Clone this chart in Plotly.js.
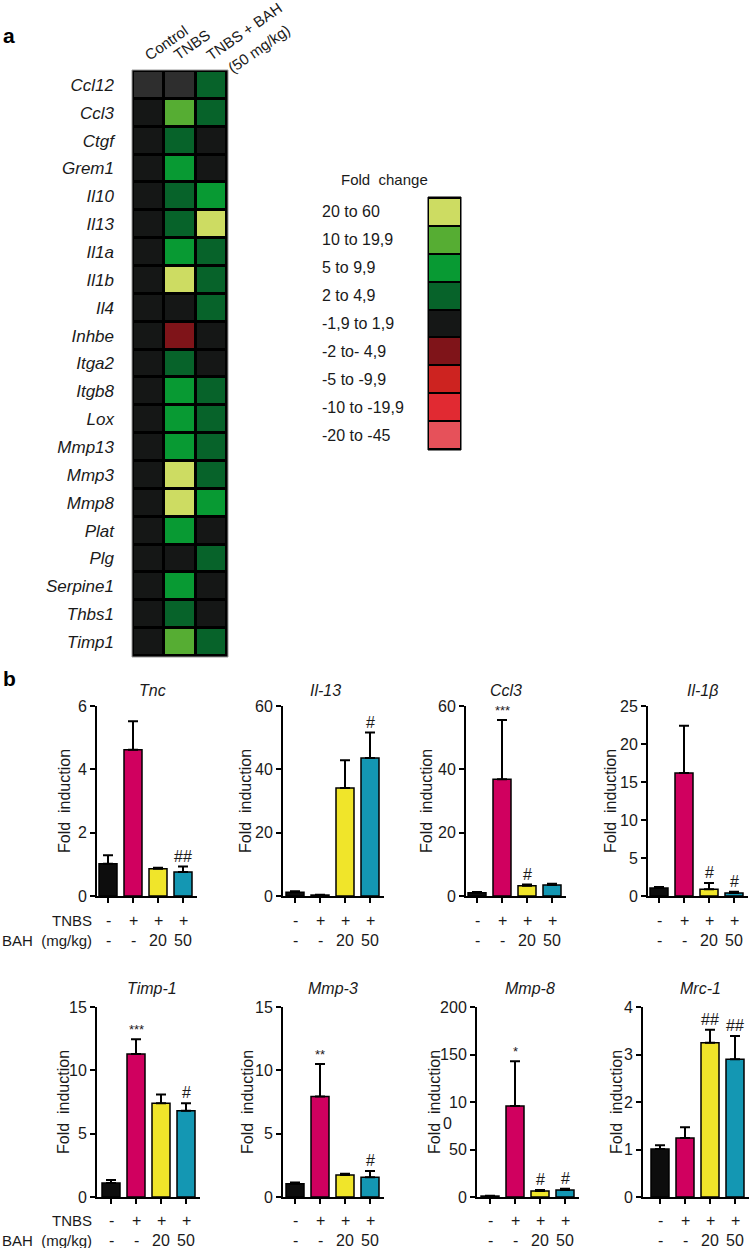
<!DOCTYPE html>
<html><head><meta charset="utf-8">
<script src="https://cdn.plot.ly/plotly-3.0.1.min.js"></script>
<style>html,body{margin:0;padding:0;background:#fff}#chart{width:749px;height:1248px}</style>
</head><body><div id="chart"></div>
<script>
// ---------- Panel a: heatmap data ----------
const genes = ['Ccl12','Ccl3','Ctgf','Grem1','Il10','Il13','Il1a','Il1b','Il4','Inhbe','Itga2','Itgb8','Lox','Mmp13','Mmp3','Mmp8','Plat','Plg','Serpine1','Thbs1','Timp1'];
const groups = ['Control','TNBS','TNBS + BAH<br>(50 mg/kg)'];
// fold-change class index (0..8 = legend rows, 9 = not available / grey)
const controlClass = [9,4,4,4,4,4,4,4,4,4,4,4,4,4,4,4,4,4,4,4,4];
const tnbsClass    = [9,1,3,2,3,3,2,0,4,5,3,2,2,2,0,0,2,4,2,3,1];
const bahClass     = [3,3,4,4,2,0,3,3,3,4,4,3,3,3,3,2,4,3,4,4,3];
const foldLabels = ['20 to 60','10 to 19,9','5 to 9,9','2 to 4,9','-1,9 to 1,9','-2 to- 4,9','-5 to -9,9','-10 to -19,9','-20 to -45'];
const foldColors = ['#cddc62','#56ad33','#089a33','#07632a','#151716','#7f1419','#cd2320','#e12a32','#e6515a'];
const naColor = '#2e2e2e';

// ---------- Panel b: bar data ----------
const tnbsRow = ['-','+','+','+'];
const bahRow  = ['-','-','20','50'];
const barColors = ['#0d0d0d','#d0005f','#f0e52a','#1497b3'];

const tncMean = [1.02,4.62,0.86,0.76],  tncErr = [0.27,0.9,0.03,0.17],  tncSig = ['','','','##'];
const il13Mean = [1.2,0.3,34.1,43.6],   il13Err = [0.3,0.1,8.8,8.0],    il13Sig = ['','','','#'];
const ccl3Mean = [1.0,36.9,3.2,3.5],    ccl3Err = [0.3,18.7,0.4,0.4],   ccl3Sig = ['','***','#',''];
const il1bMean = [1.05,16.2,0.9,0.4],   il1bErr = [0.15,6.2,0.8,0.15],  il1bSig = ['','','#','#'];
const timp1Mean = [1.1,11.28,7.4,6.8],  timp1Err = [0.25,1.17,0.7,0.6], timp1Sig = ['','***','','#'];
const mmp3Mean = [1.05,7.93,1.73,1.55], mmp3Err = [0.1,2.57,0.1,0.5],   mmp3Sig = ['','**','','#'];
const mmp8Mean = [1.0,95.8,6.3,7.4],    mmp8Err = [0.2,47,1.0,1.2],     mmp8Sig = ['','*','#','#'];
const mrc1Mean = [1.01,1.24,3.25,2.9],  mrc1Err = [0.08,0.23,0.27,0.49],mrc1Sig = ['','','##','##'];

const tncTicks = [0,2,4,6], il13Ticks = [0,20,40,60], ccl3Ticks = [0,20,40,60], il1bTicks = [0,5,10,15,20,25];
const timp1Ticks = [0,5,10,15], mmp3Ticks = [0,5,10,15], mmp8Ticks = [0,50,100,150,200], mrc1Ticks = [0,1,2,3,4];
const mmp8TickText = ['0','50','10','150','200'];

// ---------- layout helpers ----------
const W = 749, H = 1248;
const px = v => v / W, py = v => 1 - v / H;
const FONT = '"Liberation Sans", Arial, Helvetica, sans-serif';

const cs = [];
const allColors = foldColors.concat([naColor]);
allColors.forEach((c, k) => { cs.push([k / allColors.length, c]); cs.push([(k + 1) / allColors.length, c]); });

const traces = [];
const layout = {
  width: W, height: H, margin: {l:0, r:0, t:0, b:0}, showlegend: false,
  paper_bgcolor: '#ffffff', plot_bgcolor: 'rgba(0,0,0,0)',
  font: {family: FONT, size: 16, color: '#1a1a1a'},
  annotations: [], shapes: []
};
function ann(o) { layout.annotations.push(Object.assign({showarrow:false, xanchor:'center', yanchor:'middle'}, o)); }

// heatmap
const z = genes.map((g, i) => [controlClass[i], tnbsClass[i], bahClass[i]]);
traces.push({type:'heatmap', x: [0,1,2], y: genes, z: z, xaxis:'x', yaxis:'y',
  colorscale: cs, zmin: -0.5, zmax: 9.5, showscale: false, xgap: 3, ygap: 3, hoverinfo: 'skip'});
layout.xaxis = {domain:[px(133), px(227)], anchor:'y', range:[-0.5, 2.5], visible:false, fixedrange:true};
layout.yaxis = {domain:[py(656), py(71)], anchor:'x', autorange:'reversed', showgrid:false,
  zeroline:false, showline:false, ticks:'', ticklabelstandoff: 18, tickfont:{size:17, style:'italic'}};
layout.shapes.push({type:'rect', xref:'paper', yref:'paper', x0:px(132), x1:px(228), y0:py(657), y1:py(70),
  fillcolor:'#000', line:{color:'#9a9a9a', width:1}, layer:'below'});
// rotated column headers (bounding-box bottom-left corners, in pixels)
const headerPos = [[[139,66]], [[168,66]], [[200,66],[222,79]]];
groups.forEach((gname, i) => gname.split('<br>').forEach((line, li) => {
  const pos = headerPos[i][li];
  ann({xref:'paper', yref:'paper', x:px(pos[0]), y:py(pos[1]), xanchor:'left', yanchor:'bottom',
    text:line, textangle:-35, font:{size:15}});
}));

// legend heatmap
traces.push({type:'heatmap', x:[0], y: foldLabels.map((l, i) => i), z: foldLabels.map((l, i) => [i]),
  xaxis:'x2', yaxis:'y2', colorscale: cs, zmin:-0.5, zmax:9.5, showscale:false, ygap: 2, hoverinfo:'skip'});
layout.xaxis2 = {domain:[px(429), px(460)], anchor:'y2', visible:false, range:[-0.5,0.5]};
layout.yaxis2 = {domain:[py(449), py(198)], anchor:'x2', visible:false, autorange:'reversed'};
layout.shapes.push({type:'rect', xref:'paper', yref:'paper', x0:px(428), x1:px(461), y0:py(450), y1:py(197),
  fillcolor:'#000', line:{color:'#000', width:1}, layer:'below'});
foldLabels.forEach((l, i) => ann({xref:'paper', yref:'y2', x:px(320), y:i, xanchor:'left', text:l, font:{size:16}}));
ann({xref:'paper', yref:'paper', x:px(385), y:py(179), text:'Fold  change', font:{size:15}});

// panel letters
ann({xref:'paper', yref:'paper', x:px(1), y:py(35), xanchor:'left', text:'<b>a</b>', font:{size:21, color:'#000'}});
ann({xref:'paper', yref:'paper', x:px(1), y:py(678), xanchor:'left', text:'<b>b</b>', font:{size:21, color:'#000'}});

// bar panels
const panels = [
  {title:'Tnc',   mean:tncMean,   err:tncErr,   sig:tncSig,   ticks:tncTicks,   row:0, ax:97,  off:11, tx:152, fx:64},
  {title:'Il-13', mean:il13Mean,  err:il13Err,  sig:il13Sig,  ticks:il13Ticks,  row:0, ax:283, off:12, tx:325, fx:245},
  {title:'Ccl3',  mean:ccl3Mean,  err:ccl3Err,  sig:ccl3Sig,  ticks:ccl3Ticks,  row:0, ax:466, off:11, tx:506, fx:426},
  {title:'Il-1β', mean:il1bMean,  err:il1bErr,  sig:il1bSig,  ticks:il1bTicks,  row:0, ax:648, off:11, tx:702, fx:610},
  {title:'Timp-1',mean:timp1Mean, err:timp1Err, sig:timp1Sig, ticks:timp1Ticks, row:1, ax:97,  off:14, tx:152, fx:63},
  {title:'Mmp-3', mean:mmp3Mean,  err:mmp3Err,  sig:mmp3Sig,  ticks:mmp3Ticks,  row:1, ax:283, off:12, tx:333, fx:247},
  {title:'Mmp-8', mean:mmp8Mean,  err:mmp8Err,  sig:mmp8Sig,  ticks:mmp8Ticks,  row:1, ax:477, off:13, tx:530, fx:434, ticktext:mmp8TickText},
  {title:'Mrc-1', mean:mrc1Mean,  err:mrc1Err,  sig:mrc1Sig,  ticks:mrc1Ticks,  row:1, ax:643, off:17, tx:700, fx:616}
];
const rowGeom = [{top:706, zero:896, title:690, r1:920, r2:940}, {top:1007, zero:1197, title:988, r1:1220, r2:1240}];

panels.forEach((p, j) => {
  const k = j + 3, g = rowGeom[p.row];
  const ymax = p.ticks[p.ticks.length - 1];
  traces.push({type:'bar', x:[0,1,2,3], y:p.mean, width:0.72, xaxis:'x'+k, yaxis:'y'+k,
    marker:{color:barColors, line:{color:'#000', width:1.5}}, hoverinfo:'skip',
    error_y:{type:'data', symmetric:false, array:p.err, arrayminus:[0,0,0,0], color:'#000', thickness:2, width:5}});
  layout['xaxis'+k] = {domain:[px(p.ax), px(p.ax + p.off + 75 + 14)], anchor:'y'+k,
    range:[-p.off/25, 3 + 14/25], tickvals:[0,1,2,3], showticklabels:false, ticks:'outside', ticklen:5,
    tickwidth:2, tickcolor:'#000', showline:true, linewidth:2, linecolor:'#000', showgrid:false,
    zeroline:false, fixedrange:true};
  layout['yaxis'+k] = {domain:[py(g.zero), py(g.top)], anchor:'x'+k, range:[0, ymax], tickvals:p.ticks,
    ticktext: p.ticktext || p.ticks.map(String), ticks:'outside', ticklen:5, tickwidth:2, tickcolor:'#000',
    showline:true, linewidth:2, linecolor:'#000', showgrid:false, zeroline:false,
    tickfont:{size:16, color:'#1a1a1a'}, fixedrange:true};
  ann({xref:'paper', yref:'paper', x:px(p.tx), y:py(g.title), text:'<i>'+p.title+'</i>', font:{size:16}});
  ann({xref:'paper', yref:'paper', x:px(p.fx), y:py((g.top+g.zero)/2), text:'Fold  induction', textangle:-90, font:{size:16}});
  tnbsRow.forEach((t, i) => ann({xref:'x'+k, yref:'paper', x:i, y:py(g.r1), text:t, font:{size:16}}));
  bahRow.forEach((t, i) => ann({xref:'x'+k, yref:'paper', x:i, y:py(g.r2), text:t, font:{size:16}}));
  p.sig.forEach((s, i) => { if (s) ann({xref:'x'+k, yref:'y'+k, x:i, y:p.mean[i]+p.err[i],
    yanchor:'bottom', yshift:0, text:s, font:{size: s.indexOf('*') >= 0 ? 13 : 16}}); });
});
// Mmp-8 stray tick fragment
ann({xref:'paper', yref:'paper', x:px(448), y:py(1123), text:'0', font:{size:16}});
// row labels
rowGeom.forEach(g => {
  ann({xref:'paper', yref:'paper', x:px(94), y:py(g.r1), xanchor:'right', text:'TNBS', font:{size:15}});
  ann({xref:'paper', yref:'paper', x:px(94), y:py(g.r2), xanchor:'right', text:'BAH  (mg/kg)', font:{size:15}});
});

Plotly.newPlot('chart', traces, layout, {staticPlot:true, displayModeBar:false});
</script></body></html>
